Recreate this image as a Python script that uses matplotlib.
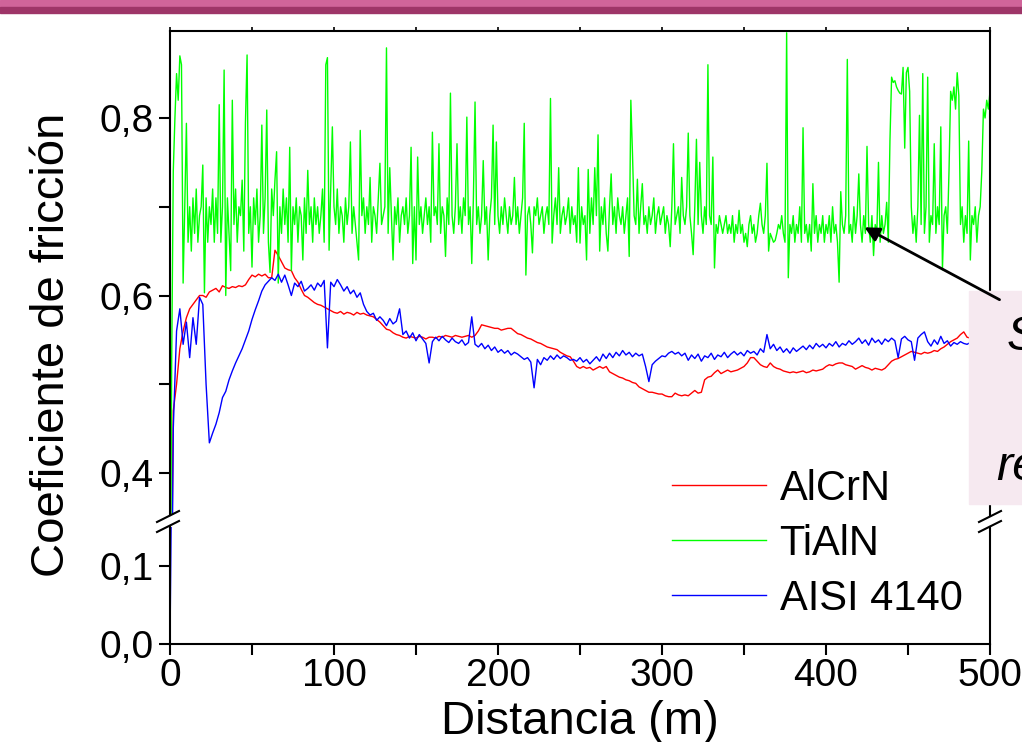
import numpy as np
import matplotlib
matplotlib.use("Agg")
import matplotlib.pyplot as plt
from matplotlib.patches import Rectangle, FancyArrowPatch
from matplotlib.lines import Line2D

plt.rcParams['font.family'] = ['Liberation Sans', 'DejaVu Sans']

# Coeficiente de friccion vs distancia (m)
alcrn = [0.10, 0.47, 0.50, 0.54, 0.56, 0.575, 0.585, 0.59, 0.595, 0.60,
         0.60, 0.598, 0.604, 0.606, 0.608, 0.604, 0.611, 0.609, 0.608, 0.610,
         0.609, 0.611, 0.610, 0.612, 0.618, 0.623, 0.621, 0.624, 0.622, 0.624,
         0.620, 0.620, 0.651, 0.645, 0.638, 0.631, 0.629, 0.628, 0.620, 0.615,
         0.607, 0.600, 0.598, 0.595, 0.592, 0.590, 0.589, 0.587, 0.585, 0.583,
         0.581, 0.580, 0.582, 0.579, 0.581, 0.580, 0.578, 0.581, 0.579, 0.580,
         0.578, 0.577, 0.576, 0.573, 0.570, 0.566, 0.562, 0.561, 0.558, 0.556,
         0.555, 0.553, 0.552, 0.554, 0.553, 0.552, 0.554, 0.553, 0.551, 0.553,
         0.553, 0.552, 0.554, 0.553, 0.555, 0.554, 0.553, 0.555, 0.554, 0.553,
         0.554, 0.555, 0.553, 0.555, 0.560, 0.567, 0.566, 0.565, 0.564, 0.563,
         0.563, 0.561, 0.562, 0.563, 0.563, 0.560, 0.557, 0.556, 0.554, 0.552,
         0.551, 0.549, 0.547, 0.546, 0.544, 0.542, 0.541, 0.540, 0.539, 0.536,
         0.534, 0.532, 0.531, 0.526, 0.520, 0.518, 0.520, 0.518, 0.519, 0.516,
         0.518, 0.520, 0.518, 0.520, 0.514, 0.512, 0.510, 0.508, 0.507, 0.505,
         0.504, 0.502, 0.501, 0.497, 0.495, 0.493, 0.491, 0.491, 0.490, 0.489,
         0.489, 0.487, 0.486, 0.486, 0.490, 0.488, 0.487, 0.488, 0.487, 0.490,
         0.493, 0.490, 0.491, 0.505, 0.508, 0.509, 0.513, 0.516, 0.512, 0.514,
         0.516, 0.514, 0.515, 0.516, 0.518, 0.520, 0.524, 0.530, 0.530, 0.526,
         0.522, 0.520, 0.519, 0.524, 0.520, 0.518, 0.517, 0.515, 0.514, 0.513,
         0.514, 0.513, 0.514, 0.515, 0.513, 0.514, 0.516, 0.515, 0.516, 0.517,
         0.520, 0.522, 0.521, 0.523, 0.524, 0.524, 0.522, 0.521, 0.520, 0.517,
         0.519, 0.521, 0.519, 0.518, 0.516, 0.518, 0.517, 0.516, 0.518, 0.522,
         0.526, 0.528, 0.529, 0.531, 0.533, 0.535, 0.537, 0.536, 0.535, 0.534,
         0.536, 0.535, 0.536, 0.538, 0.537, 0.540, 0.542, 0.545, 0.548, 0.550,
         0.552, 0.556, 0.559, 0.553, 0.552, 0.553, 0.554, 0.553, 0.555, 0.554,
         0.555]

tialn = [0.13, 0.52, 0.74, 0.80, 0.85, 0.82, 0.87, 0.86, 0.614, 0.70,
         0.794, 0.66, 0.70, 0.65, 0.71, 0.67, 0.72, 0.66, 0.69, 0.70,
         0.747, 0.603, 0.71, 0.66, 0.70, 0.68, 0.72, 0.66, 0.71, 0.67,
         0.815, 0.66, 0.70, 0.854, 0.60, 0.71, 0.67, 0.628, 0.82, 0.68,
         0.72, 0.66, 0.70, 0.69, 0.73, 0.65, 0.795, 0.871, 0.67, 0.70,
         0.632, 0.71, 0.68, 0.72, 0.66, 0.69, 0.792, 0.67, 0.71, 0.809,
         0.66, 0.626, 0.72, 0.69, 0.73, 0.762, 0.614, 0.70, 0.67, 0.72,
         0.68, 0.71, 0.66, 0.767, 0.628, 0.70, 0.68, 0.71, 0.66, 0.70,
         0.69, 0.64, 0.71, 0.67, 0.741, 0.68, 0.70, 0.66, 0.71, 0.68,
         0.70, 0.67, 0.69, 0.72, 0.66, 0.86, 0.868, 0.651, 0.72, 0.79,
         0.70, 0.68, 0.72, 0.67, 0.70, 0.69, 0.66, 0.71, 0.68, 0.70,
         0.773, 0.67, 0.70, 0.68, 0.66, 0.64, 0.786, 0.69, 0.71, 0.67,
         0.70, 0.68, 0.733, 0.66, 0.70, 0.69, 0.67, 0.71, 0.749, 0.68,
         0.69, 0.70, 0.879, 0.67, 0.744, 0.69, 0.64, 0.70, 0.68, 0.71,
         0.66, 0.69, 0.70, 0.68, 0.71, 0.67, 0.69, 0.767, 0.636, 0.70,
         0.640, 0.756, 0.68, 0.70, 0.67, 0.69, 0.71, 0.68, 0.70, 0.66,
         0.784, 0.69, 0.70, 0.68, 0.771, 0.67, 0.70, 0.69, 0.644, 0.71,
         0.68, 0.828, 0.69, 0.67, 0.70, 0.771, 0.68, 0.70, 0.67, 0.71,
         0.69, 0.801, 0.68, 0.70, 0.636, 0.71, 0.818, 0.68, 0.70, 0.67,
         0.69, 0.752, 0.68, 0.70, 0.64, 0.69, 0.71, 0.792, 0.68, 0.773,
         0.69, 0.67, 0.70, 0.68, 0.71, 0.69, 0.67, 0.70, 0.68, 0.69,
         0.733, 0.68, 0.70, 0.67, 0.69, 0.71, 0.794, 0.623, 0.69, 0.70,
         0.68, 0.648, 0.70, 0.69, 0.71, 0.68, 0.69, 0.70, 0.67, 0.69,
         0.70, 0.68, 0.822, 0.659, 0.69, 0.71, 0.68, 0.744, 0.67, 0.69,
         0.70, 0.68, 0.69, 0.71, 0.67, 0.70, 0.68, 0.69, 0.66, 0.744,
         0.659, 0.70, 0.68, 0.69, 0.64, 0.742, 0.67, 0.71, 0.68, 0.744,
         0.69, 0.781, 0.65, 0.70, 0.68, 0.71, 0.67, 0.65, 0.70, 0.737,
         0.68, 0.70, 0.67, 0.71, 0.69, 0.68, 0.70, 0.67, 0.69, 0.71,
         0.644, 0.82, 0.76, 0.69, 0.68, 0.731, 0.67, 0.70, 0.726, 0.68,
         0.69, 0.67, 0.70, 0.68, 0.69, 0.71, 0.67, 0.69, 0.70, 0.68,
         0.69, 0.70, 0.67, 0.69, 0.68, 0.655, 0.70, 0.771, 0.68, 0.69,
         0.70, 0.67, 0.733, 0.69, 0.68, 0.70, 0.783, 0.69, 0.67, 0.646,
         0.70, 0.776, 0.68, 0.75, 0.69, 0.67, 0.70, 0.68, 0.86, 0.69,
         0.68, 0.756, 0.631, 0.68, 0.67, 0.69, 0.68, 0.67, 0.68, 0.69,
         0.67, 0.68, 0.67, 0.69, 0.66, 0.68, 0.67, 0.696, 0.67, 0.68,
         0.66, 0.67, 0.655, 0.68, 0.69, 0.67, 0.68, 0.66, 0.67, 0.69,
         0.704, 0.68, 0.67, 0.69, 0.749, 0.65, 0.67, 0.665, 0.66, 0.662,
         0.67, 0.68, 0.675, 0.69, 0.67, 0.66, 0.896, 0.62, 0.68, 0.67,
         0.69, 0.66, 0.68, 0.67, 0.70, 0.66, 0.789, 0.67, 0.68, 0.66,
         0.68, 0.65, 0.726, 0.67, 0.69, 0.66, 0.68, 0.67, 0.69, 0.66,
         0.68, 0.67, 0.69, 0.66, 0.70, 0.67, 0.68, 0.66, 0.615, 0.717,
         0.68, 0.67, 0.69, 0.866, 0.67, 0.68, 0.66, 0.70, 0.67, 0.69,
         0.737, 0.68, 0.66, 0.69, 0.67, 0.768, 0.68, 0.66, 0.69, 0.645,
         0.68, 0.67, 0.75, 0.66, 0.69, 0.67, 0.68, 0.705, 0.66, 0.775,
         0.846, 0.84, 0.842, 0.835, 0.831, 0.828, 0.827, 0.857, 0.766, 0.851,
         0.857, 0.83, 0.70, 0.67, 0.69, 0.66, 0.70, 0.803, 0.68, 0.85,
         0.67, 0.70, 0.846, 0.66, 0.69, 0.68, 0.771, 0.67, 0.70, 0.68,
         0.79, 0.629, 0.69, 0.70, 0.67, 0.74, 0.83, 0.82, 0.835, 0.81,
         0.851, 0.825, 0.68, 0.70, 0.66, 0.69, 0.67, 0.774, 0.64, 0.69,
         0.68, 0.70, 0.66, 0.69, 0.70, 0.74, 0.81, 0.80, 0.82, 0.81,
         0.83]

aisi = [0.00, 0.45, 0.56, 0.585, 0.545, 0.57, 0.53, 0.575, 0.545, 0.598,
        0.59, 0.50, 0.434, 0.445, 0.455, 0.468, 0.485, 0.492, 0.505, 0.515,
        0.524, 0.532, 0.540, 0.550, 0.560, 0.573, 0.584, 0.594, 0.605, 0.612,
        0.616, 0.620, 0.617, 0.624, 0.615, 0.623, 0.612, 0.600, 0.614, 0.610,
        0.616, 0.605, 0.608, 0.612, 0.606, 0.614, 0.610, 0.617, 0.541, 0.615,
        0.610, 0.618, 0.612, 0.605, 0.610, 0.602, 0.606, 0.598, 0.603, 0.590,
        0.582, 0.578, 0.580, 0.572, 0.576, 0.572, 0.566, 0.574, 0.568, 0.571,
        0.585, 0.556, 0.560, 0.552, 0.558, 0.549, 0.556, 0.551, 0.546, 0.524,
        0.548, 0.553, 0.549, 0.554, 0.550, 0.547, 0.552, 0.548, 0.546, 0.550,
        0.544, 0.547, 0.576, 0.545, 0.542, 0.546, 0.540, 0.544, 0.538, 0.542,
        0.536, 0.539, 0.535, 0.538, 0.533, 0.536, 0.534, 0.531, 0.528, 0.530,
        0.525, 0.496, 0.528, 0.522, 0.530, 0.527, 0.532, 0.528, 0.533, 0.529,
        0.532, 0.530, 0.527, 0.528, 0.526, 0.530, 0.525, 0.528, 0.523, 0.527,
        0.531, 0.526, 0.534, 0.529, 0.535, 0.530, 0.536, 0.532, 0.538, 0.533,
        0.536, 0.531, 0.535, 0.532, 0.534, 0.520, 0.503, 0.522, 0.526, 0.529,
        0.532, 0.531, 0.535, 0.537, 0.534, 0.536, 0.532, 0.535, 0.527, 0.533,
        0.529, 0.534, 0.526, 0.532, 0.530, 0.535, 0.528, 0.533, 0.531, 0.536,
        0.530, 0.534, 0.537, 0.533, 0.536, 0.532, 0.538, 0.535, 0.537, 0.533,
        0.540, 0.536, 0.556, 0.540, 0.545, 0.538, 0.542, 0.536, 0.540, 0.535,
        0.541, 0.537, 0.540, 0.543, 0.539, 0.544, 0.540, 0.546, 0.542, 0.545,
        0.541, 0.546, 0.543, 0.548, 0.542, 0.546, 0.544, 0.549, 0.545, 0.548,
        0.552, 0.546, 0.550, 0.544, 0.552, 0.547, 0.550, 0.545, 0.551, 0.548,
        0.552, 0.549, 0.530, 0.551, 0.554, 0.550, 0.548, 0.527, 0.552, 0.556,
        0.559, 0.548, 0.543, 0.550, 0.545, 0.554, 0.546, 0.549, 0.543, 0.547,
        0.545, 0.548, 0.546, 0.545, 0.547, 0.545, 0.548, 0.546, 0.547, 0.545,
        0.546]

series = [("AlCrN", alcrn, "#FF0000"), ("TiAlN", tialn, "#00FF00"), ("AISI 4140", aisi, "#0000FF")]

W, H = 1022, 742
fig = plt.figure(figsize=(W / 100, H / 100), dpi=100)

def fx(px):
    return px / W

def fy(py):
    return 1 - py / H

left, right = fx(170), fx(990)
ax_top = fig.add_axes([left, fy(515), right - left, fy(31) - fy(515)])
ax_bot = fig.add_axes([left, fy(644), right - left, fy(527) - fy(644)])

for name, vals, col in series:
    x = np.linspace(0, 500, len(vals))
    ax_top.plot(x, vals, color=col, lw=1.0, label=name)
    ax_bot.plot(x, vals, color=col, lw=1.0)

ax_top.set_ylim(0.3527, 0.898)
ax_bot.set_ylim(0, 0.15)
for ax in (ax_top, ax_bot):
    ax.set_xlim(0, 500)
    for s in ax.spines.values():
        s.set_linewidth(1.5)
ax_top.spines['bottom'].set_visible(False)
ax_bot.spines['top'].set_visible(False)

ax_top.set_yticks([0.4, 0.5, 0.6, 0.7, 0.8])
ax_top.set_yticklabels(['0,4', '', '0,6', '', '0,8'])
ax_bot.set_yticks([0.0, 0.1])
ax_bot.set_yticklabels(['0,0', '0,1'])
ax_bot.set_xticks(np.arange(0, 501, 50))
ax_bot.set_xticklabels(['0', '', '100', '', '200', '', '300', '', '400', '', '500'])
ax_top.set_xticks(np.arange(0, 501, 50))

ax_top.tick_params(axis='x', bottom=False, top=True, labelbottom=False, direction='out', length=3, width=1.2)
ax_top.tick_params(axis='y', direction='out', length=8, width=1.5, labelsize=28, pad=4)
ax_bot.tick_params(axis='y', direction='out', length=8, width=1.5, labelsize=28, pad=4)
ax_bot.tick_params(axis='x', direction='out', length=8, width=1.5, labelsize=28, pad=2)

fig.text(fx(52), fy(345), 'Coeficiente de fricción', rotation=90, fontsize=34, ha='center', va='center')
fig.text(fx(580), fy(722), 'Distancia (m)', fontsize=34, ha='center', va='center')

# axis break marks
for bx in (169, 991):
    for dy in (0, 10):
        fig.add_artist(Line2D([fx(bx - 12), fx(bx + 10)], [fy(522 + dy), fy(511 + dy)], color='k', lw=1.5))

handles, labels = ax_top.get_legend_handles_labels()
fig.legend(handles, labels, loc='upper left', bbox_to_anchor=(fx(672), fy(469)), frameon=False,
           fontsize=30, handlelength=2.25, handletextpad=0.33, labelspacing=0.36, borderpad=0, borderaxespad=0)

# top slide bar
fig.add_artist(Rectangle((0, fy(7)), 1, fy(0) - fy(7), transform=fig.transFigure, color='#D0649A', zorder=5))
fig.add_artist(Rectangle((0, fy(13)), 1, fy(7) - fy(13), transform=fig.transFigure, color='#9E3568', zorder=5))

# pink note box and arrow
fig.add_artist(Rectangle((fx(969), fy(504)), 1, fy(291) - fy(504), transform=fig.transFigure,
                         color='#F6E9F0', zorder=5))
fig.text(fx(1007), fy(350), 'S', fontsize=35, style='italic', ha='left', va='baseline', zorder=6)
fig.text(fx(996), fy(480), 're', fontsize=35, style='italic', ha='left', va='baseline', zorder=6)
fig.add_artist(FancyArrowPatch((fx(1002), fy(301)), (fx(862), fy(226)), transform=fig.transFigure,
                               arrowstyle='-|>', mutation_scale=22, lw=2, color='k', zorder=6))

fig.savefig('out.png', dpi=100)
